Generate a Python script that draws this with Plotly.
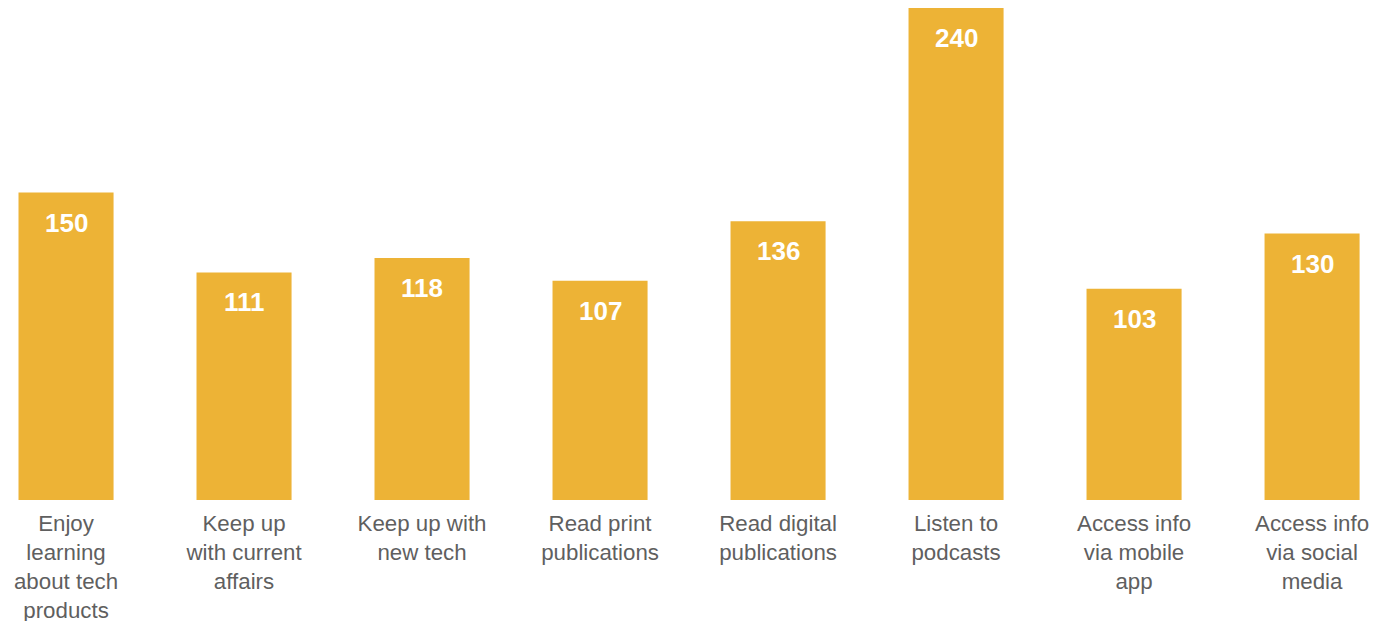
import plotly.graph_objects as go

categories = [
    "Enjoy<br>learning<br>about tech<br>products",
    "Keep up<br>with current<br>affairs",
    "Keep up with<br>new tech",
    "Read print<br>publications",
    "Read digital<br>publications",
    "Listen to<br>podcasts",
    "Access info<br>via mobile<br>app",
    "Access info<br>via social<br>media",
]
values = [150, 111, 118, 107, 136, 240, 103, 130]

BAR = "#EDB336"
fig = go.Figure(
    go.Bar(
        x=list(range(len(categories))),
        y=values,
        marker=dict(color=BAR, line=dict(width=0)),
        hoverinfo="skip",
    )
)

for i, v in enumerate(values):
    fig.add_annotation(
        x=i, y=v, text=f"<b>{v}</b>", showarrow=False,
        yanchor="middle", yshift=-30,
        font=dict(family="Liberation Sans, Arial, sans-serif", size=26, color="white"),
    )

fig.update_layout(
    width=1392, height=621,
    margin=dict(l=0, r=0, t=0, b=129),
    paper_bgcolor="white", plot_bgcolor="white",
    bargap=0.466,
    showlegend=False,
    xaxis=dict(
        tickmode="array",
        tickvals=list(range(len(categories))),
        ticktext=categories,
        range=[-0.326, 7.494],
        showgrid=False, zeroline=False, showline=False, ticks="",
        ticklabelstandoff=8,
        tickfont=dict(family="Liberation Sans, Arial, sans-serif", size=22.3, color="#5f5f5f"),
    ),
    yaxis=dict(
        range=[0, 240],
        visible=False,
    ),
)

fig.write_html("out.html")
